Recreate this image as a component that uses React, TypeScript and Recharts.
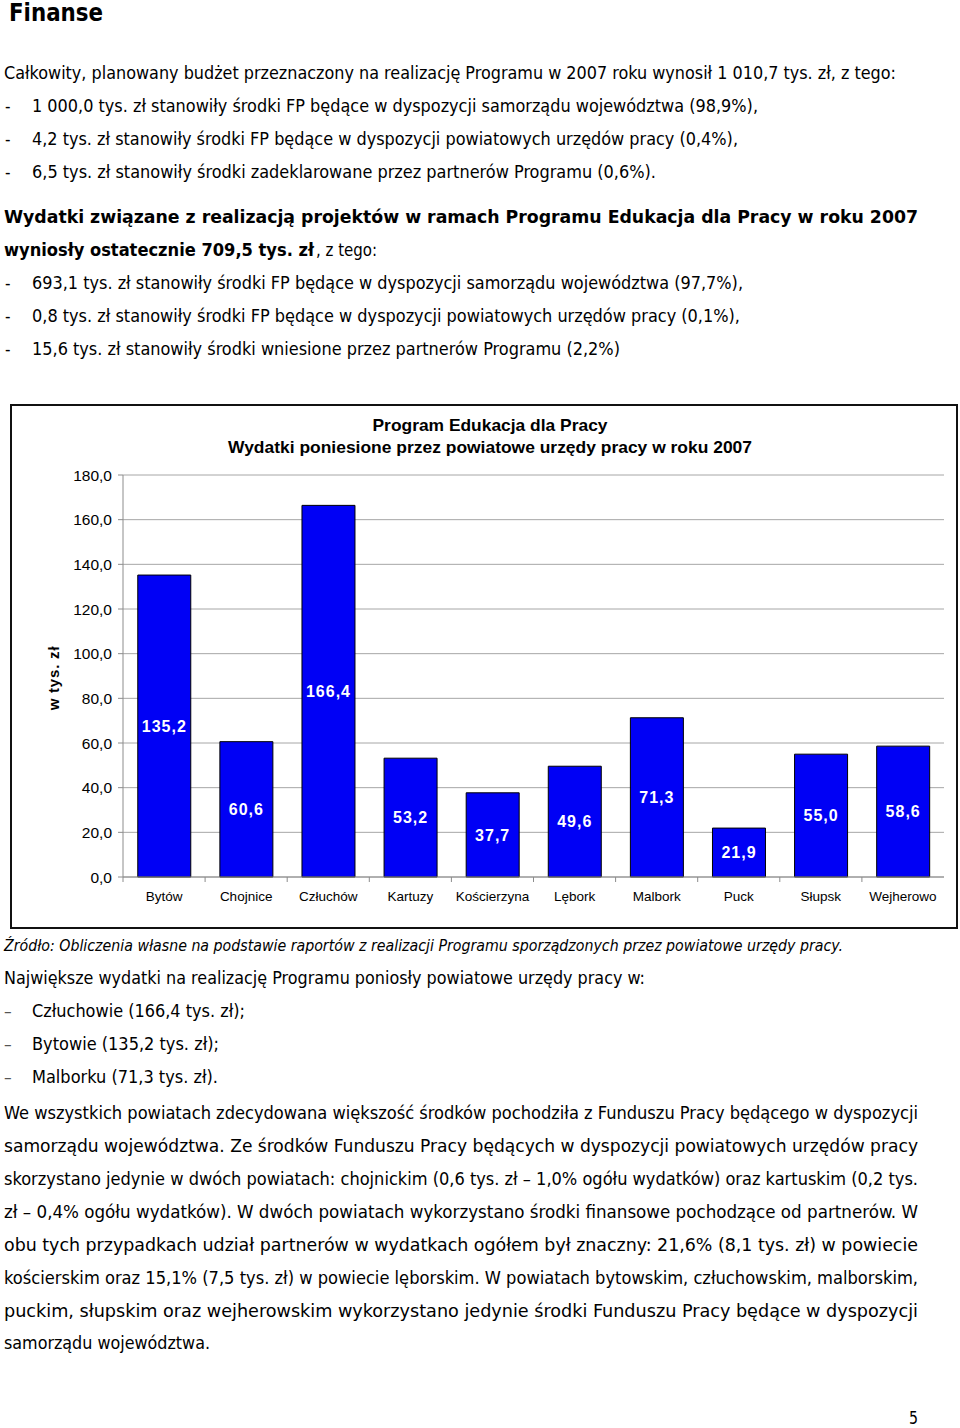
import React from 'react';
import { BarChart, Bar, XAxis, YAxis, CartesianGrid, LabelList } from 'recharts';

// Powiatowe urzędy pracy – wydatki w 2007 r. (tys. zł)
const districts = ['Bytów', 'Chojnice', 'Człuchów', 'Kartuzy', 'Kościerzyna', 'Lębork', 'Malbork', 'Puck', 'Słupsk', 'Wejherowo'];
const expenses = [135.2, 60.6, 166.4, 53.2, 37.7, 49.6, 71.3, 21.9, 55.0, 58.6];
const yTicks = [0, 20, 40, 60, 80, 100, 120, 140, 160, 180];

const chartTitle = ['Program Edukacja dla Pracy', 'Wydatki poniesione przez powiatowe urzędy pracy w roku 2007'];
const yLabel = 'w tys. zł';

const chartData = districts.map((name, i) => ({ name, value: expenses[i] }));

const fmt = (v: number) => v.toFixed(1).replace('.', ',');

const PAGE_FONT = '"DejaVu Sans Condensed", "DejaVu Sans", Verdana, sans-serif';
const CHART_FONT = '"Liberation Sans", Arial, sans-serif';

// page text: [text, x, baseline, width, style]
type Style = 'n' | 'b' | 'i' | 'h';
const pageLines: [string, number, number, number, Style][] = [
  ['Finanse', 9, 21, 94, 'h'],
  ['Całkowity, planowany budżet przeznaczony na realizację Programu w 2007 roku wynosił 1 010,7 tys. zł, z tego:', 4, 79, 892, 'n'],
  ['1 000,0 tys. zł stanowiły środki FP będące w dyspozycji samorządu województwa (98,9%),', 32, 112, 726, 'n'],
  ['4,2 tys. zł stanowiły środki FP będące w dyspozycji powiatowych urzędów pracy (0,4%),', 32, 145, 706, 'n'],
  ['6,5 tys. zł stanowiły środki zadeklarowane przez partnerów Programu (0,6%).', 32, 178, 624, 'n'],
  ['Wydatki związane z realizacją projektów w ramach Programu Edukacja dla Pracy w roku 2007', 4, 223, 914, 'b'],
  ['wyniosły ostatecznie 709,5 tys. zł', 4, 256, 310, 'b'],
  [', z tego:', 316, 256, 61, 'n'],
  ['693,1 tys. zł stanowiły środki FP będące w dyspozycji samorządu województwa (97,7%),', 32, 289, 711, 'n'],
  ['0,8 tys. zł stanowiły środki FP będące w dyspozycji powiatowych urzędów pracy (0,1%),', 32, 322, 708, 'n'],
  ['15,6 tys. zł stanowiły środki wniesione przez partnerów Programu (2,2%)', 32, 355, 588, 'n'],
  ['Źródło: Obliczenia własne na podstawie raportów z realizacji Programu sporządzonych przez powiatowe urzędy pracy.', 4, 951, 839, 'i'],
  ['Największe wydatki na realizację Programu poniosły powiatowe urzędy pracy w:', 4, 984, 641, 'n'],
  ['Człuchowie (166,4 tys. zł);', 32, 1017, 213, 'n'],
  ['Bytowie (135,2 tys. zł);', 32, 1050, 187, 'n'],
  ['Malborku (71,3 tys. zł).', 32, 1083, 186, 'n'],
  ['We wszystkich powiatach zdecydowana większość środków pochodziła z Funduszu Pracy będącego w dyspozycji', 4, 1119, 914, 'n'],
  ['samorządu województwa. Ze środków Funduszu Pracy będących w dyspozycji powiatowych urzędów pracy', 4, 1152, 914, 'n'],
  ['skorzystano jedynie w dwóch powiatach: chojnickim (0,6 tys. zł – 1,0% ogółu wydatków) oraz kartuskim (0,2 tys.', 4, 1185, 914, 'n'],
  ['zł – 0,4% ogółu wydatków). W dwóch powiatach wykorzystano środki finansowe pochodzące od partnerów. W', 4, 1218, 914, 'n'],
  ['obu tych przypadkach udział partnerów w wydatkach ogółem był znaczny: 21,6% (8,1 tys. zł) w powiecie', 4, 1251, 914, 'n'],
  ['kościerskim oraz 15,1% (7,5 tys. zł) w powiecie lęborskim. W powiatach bytowskim, człuchowskim, malborskim,', 4, 1284, 914, 'n'],
  ['puckim, słupskim oraz wejherowskim wykorzystano jedynie środki Funduszu Pracy będące w dyspozycji', 4, 1317, 914, 'n'],
  ['samorządu województwa.', 4, 1349, 206, 'n'],
  ['5', 909, 1424, 9, 'n'],
];

const hyphenRows = [112, 145, 178, 289, 322, 355];
const dashRows = [1017, 1050, 1083];

const CategoryTick = (props: any) => {
  const { x, y, payload } = props;
  const half = payload && payload.offset ? payload.offset : 0;
  return (
    <g>
      <line x1={x - half} x2={x - half} y1={y - 14} y2={y - 9} stroke="#8c8c8c" />
      <text x={x} y={y} dy="0.71em" textAnchor="middle" fontSize={13.5} fill="#000" fontFamily={CHART_FONT}>
        {payload.value}
      </text>
    </g>
  );
};

const YTitle = (props: any) => {
  const vb = props.viewBox || { x: 0, y: 0, width: 0, height: 0 };
  const cx = vb.x + vb.width / 2 - 14;
  const cy = vb.y + vb.height / 2 + 2;
  return (
    <text
      x={cx}
      y={cy}
      transform={`rotate(-90 ${cx} ${cy})`}
      textAnchor="middle"
      dominantBaseline="central"
      fontSize={15}
      fontWeight="bold"
      letterSpacing={0.8}
      fontFamily={CHART_FONT}
      fill="#000"
    >
      {yLabel}
    </text>
  );
};

const App: React.FC = () => {
  return (
    <div style={{ position: 'absolute', left: 0, top: 0, width: 960, height: 1428, background: '#fff' }}>
      <svg width={960} height={1428} style={{ position: 'absolute', left: 0, top: 0 }}>
        {pageLines.map(([t, x, y, w, s], i) => (
          <text
            key={i}
            x={x}
            y={y}
            textLength={w}
            lengthAdjust="spacingAndGlyphs"
            fontFamily={PAGE_FONT}
            fontSize={s === 'h' ? 24 : s === 'i' ? 15.5 : 17}
            fontWeight={s === 'h' || s === 'b' ? 'bold' : 'normal'}
            fontStyle={s === 'i' ? 'italic' : 'normal'}
            fill="#000"
          >
            {t}
          </text>
        ))}
        {hyphenRows.map((y) => (
          <text key={'h' + y} x={5} y={y} fontFamily={PAGE_FONT} fontSize={17} fill="#000">-</text>
        ))}
        {dashRows.map((y) => (
          <text key={'d' + y} x={4} y={y} fontFamily={PAGE_FONT} fontSize={17} fill="#555">–</text>
        ))}
        <text x={490} y={431} textAnchor="middle" textLength={235} lengthAdjust="spacingAndGlyphs"
          fontFamily={CHART_FONT} fontSize={16.5} fontWeight="bold" fill="#000">{chartTitle[0]}</text>
        <text x={490} y={453} textAnchor="middle" textLength={524} lengthAdjust="spacingAndGlyphs"
          fontFamily={CHART_FONT} fontSize={16.5} fontWeight="bold" fill="#000">{chartTitle[1]}</text>
      </svg>

      <div
        style={{
          position: 'absolute',
          left: 10,
          top: 404,
          width: 948,
          height: 525,
          boxSizing: 'border-box',
          border: '2px solid #111',
        }}
      />

      <div style={{ position: 'absolute', left: 12, top: 406 }}>
        <BarChart
          width={944}
          height={521}
          data={chartData}
          margin={{ top: 69, right: 12, bottom: 0, left: 0 }}
          barCategoryGap="18%"
        >
          <CartesianGrid vertical={false} stroke="#a6a6a6" />
          <XAxis
            dataKey="name"
            height={50}
            interval={0}
            tickSize={0}
            tickMargin={14}
            axisLine={{ stroke: '#8c8c8c' }}
            tick={<CategoryTick />}
          />
          <YAxis
            width={111}
            domain={[0, 180]}
            ticks={yTicks}
            interval={0}
            tickFormatter={fmt}
            tickSize={5}
            tickMargin={6}
            tickLine={{ stroke: '#8c8c8c' }}
            axisLine={{ stroke: '#8c8c8c' }}
            tick={{ fill: '#000', fontSize: 15.5, fontFamily: CHART_FONT }}
            label={<YTitle />}
          />
          <YAxis
            yAxisId="right"
            orientation="right"
            width={0}
            domain={[0, 180]}
            tick={false}
            tickLine={false}
            axisLine={{ stroke: '#8c8c8c' }}
          />
          <Bar dataKey="value" fill="#0000f5" stroke="#000" strokeWidth={1} isAnimationActive={false}>
            <LabelList
              dataKey="value"
              position="center"
              formatter={(v: any) => fmt(Number(v))}
              fill="#fff"
              fontSize={16}
              fontWeight="bold"
              letterSpacing={1}
              fontFamily={CHART_FONT}
            />
          </Bar>
        </BarChart>
      </div>
    </div>
  );
};

export default App;
